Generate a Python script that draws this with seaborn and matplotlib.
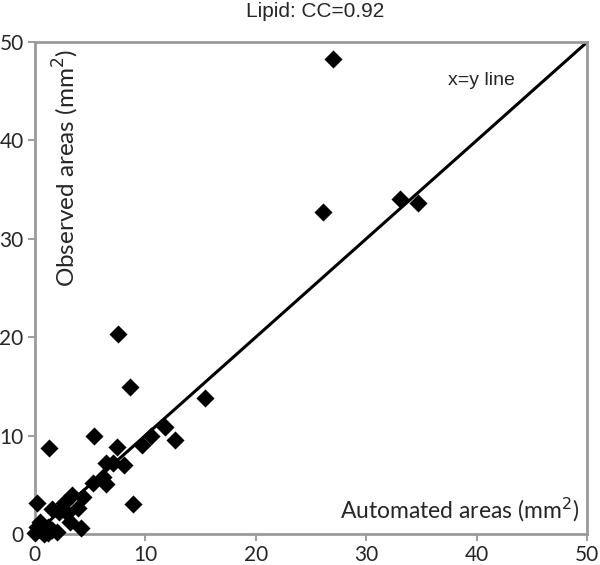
import matplotlib
matplotlib.use("Agg")
import matplotlib.pyplot as plt
import pandas as pd
import seaborn as sns

# Automated vs observed lipid areas (mm^2)
automated = [27.0, 26.1, 33.0, 34.7, 7.5, 8.6, 15.4, 11.8, 12.7, 10.5, 9.7,
             5.4, 1.3, 7.4, 8.1, 7.1, 6.4, 6.2, 6.4, 5.3, 8.9, 0.2, 3.4,
             4.4, 2.6, 3.9, 1.6, 2.2, 2.9, 3.2, 4.2, 0.0, 0.5, 0.5, 1.2,
             1.2, 2.0, 0.8, 0.2, 1.6, 0.9]
observed = [48.3, 32.7, 34.0, 33.6, 20.3, 14.9, 13.8, 10.9, 9.5, 9.9, 9.0,
            10.0, 8.7, 8.8, 7.0, 7.2, 7.2, 5.8, 5.1, 5.2, 3.0, 3.1, 4.0,
            3.8, 3.1, 2.6, 2.5, 2.2, 2.1, 1.2, 0.6, 0.1, 0.4, 1.2, 0.7,
            0.1, 0.2, 0.0, 0.7, 0.4, 0.3]
ref_line = [0, 50]
ticks = [0, 10, 20, 30, 40, 50]

df = pd.DataFrame({"automated": automated, "observed": observed})

sns.set_theme(style="white")
plt.rcParams["font.family"] = ["Lato", "DejaVu Sans"]

fig = plt.figure(figsize=(6, 5.65), dpi=100)
ax = fig.add_axes([0.058, 0.055, 0.921, 0.871])

sns.lineplot(x=ref_line, y=ref_line, ax=ax, color="black", linewidth=2.2)
sns.scatterplot(data=df, x="automated", y="observed", ax=ax, marker="D",
                s=85, color="black", edgecolor="black", linewidth=0,
                clip_on=False, zorder=5)

ax.set_xlim(0, 50)
ax.set_ylim(0, 50)
ax.set_xticks(ticks)
ax.set_yticks(ticks)
ax.tick_params(axis="both", which="both", direction="out", length=5,
               width=1.2, color="#8c8c8c", labelsize=15, pad=3,
               bottom=True, left=True)
for sp in ax.spines.values():
    sp.set_color("#9a9a9a")
    sp.set_linewidth(2)
ax.set_xlabel("")
ax.set_ylabel("")

ax.text(0.985, 0.02, "Automated areas (mm$^2$)", transform=ax.transAxes,
        ha="right", va="bottom", fontsize=16.5)
ax.text(0.03, 0.985, "Observed areas (mm$^2$)", transform=ax.transAxes,
        ha="left", va="top", rotation=90, fontsize=17.5)
ax.text(0.809, 0.921, "x=y line", transform=ax.transAxes, ha="center",
        va="center", fontsize=14, family=["Liberation Sans", "DejaVu Sans"])
fig.text(0.525, 0.979, "Lipid: CC=0.92", ha="center", va="center",
         fontsize=15, family=["Liberation Sans", "DejaVu Sans"])

fig.savefig("out.png", dpi=100)
